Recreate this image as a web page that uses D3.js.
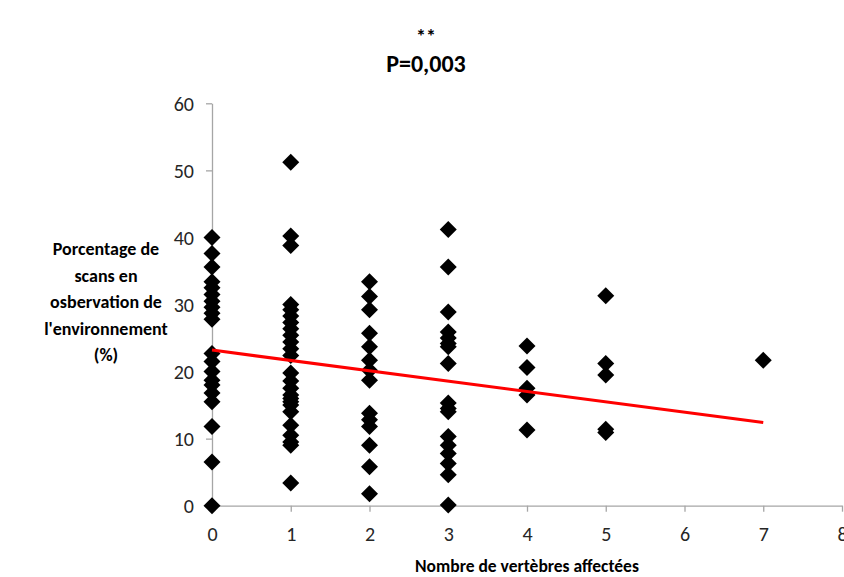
<!DOCTYPE html>
<html><head><meta charset="utf-8">
<script src="https://cdn.jsdelivr.net/npm/d3@7"></script>
<style>body{margin:0;background:#fff;} svg{display:block;}</style>
</head><body>
<svg id="c" width="844" height="577"></svg>
<script>
const vertebrae = [0, 1, 2, 3, 4, 5, 7];
const scanPct = [
  [40.0, 37.6, 35.6, 33.4, 32.5, 31.5, 30.5, 29.6, 28.7, 27.8, 22.7, 21.5, 20.0, 18.7, 18.0, 16.8, 15.5, 11.8, 6.5, 0],
  [51.2, 40.2, 38.8, 30.0, 29.2, 28.3, 27.3, 26.4, 25.4, 24.4, 23.4, 22.4, 19.8, 18.6, 17.5, 16.5, 16.0, 15.5, 15.0, 14.0, 12.0, 10.5, 9.5, 9.0, 3.4],
  [33.4, 31.2, 29.2, 25.7, 23.7, 21.7, 20.2, 18.7, 13.8, 12.8, 11.8, 9.0, 5.8, 1.8],
  [41.2, 35.6, 28.9, 25.9, 25.0, 24.2, 23.7, 21.2, 15.3, 14.5, 14.0, 10.3, 9.0, 7.8, 6.3, 4.6, 0.1],
  [23.8, 20.6, 17.5, 16.5, 11.3],
  [31.3, 21.2, 19.5, 11.4, 10.9],
  [21.7]
];
const trendX = [0, 7];
const trendIntercept = 23.2;
const trendSlope = -1.54;
const xTicks = [0, 1, 2, 3, 4, 5, 6, 7, 8];
const yTicks = [0, 10, 20, 30, 40, 50, 60];
const yTitleLines = ["Porcentage de", "scans en", "osbervation de", "l'environnement", "(%)"];
const xTitle = "Nombre de vertèbres affectées";
const stars = "**";
const pText = "P=0,003";

const font = "Carlito, Lato, 'Liberation Sans', sans-serif";
const svg = d3.select("#c");
const x = d3.scaleLinear().domain([0, 8]).range([212, 842]);
const y = d3.scaleLinear().domain([0, 60]).range([505.7, 103.3]);

const grey = "#a6a6a6";
const xa = svg.append("g").attr("transform", `translate(0,${y(0)})`)
  .call(d3.axisBottom(x).tickValues(xTicks).tickSize(6).tickSizeOuter(0).tickPadding(12));
const ya = svg.append("g").attr("transform", `translate(${x(0)},0)`)
  .call(d3.axisLeft(y).tickValues(yTicks).tickSize(6).tickSizeOuter(0).tickPadding(12));
[xa, ya].forEach(a => {
  a.select(".domain").attr("stroke", grey).attr("stroke-width", 1.3);
  a.selectAll(".tick line").attr("stroke", grey).attr("stroke-width", 1.3);
  a.selectAll(".tick text").attr("fill", "#262626").style("font-family", font).style("font-size", "20px");
});
xa.selectAll(".tick text").attr("dy", "0.85em");
ya.selectAll(".tick text").attr("dy", "0.35em");

const pts = [];
vertebrae.forEach((v, i) => scanPct[i].forEach(p => pts.push([v, p])));
const h = 8.5;
svg.append("g").selectAll("path").data(pts).join("path")
  .attr("d", d => {
    const cx = x(d[0]), cy = y(d[1]);
    const p = d3.path();
    p.moveTo(cx, cy - h); p.lineTo(cx + h, cy); p.lineTo(cx, cy + h); p.lineTo(cx - h, cy); p.closePath();
    return p.toString();
  })
  .attr("fill", "#000");

svg.append("path")
  .datum(trendX.map(v => [v, trendIntercept + trendSlope * v]))
  .attr("d", d3.line().x(d => x(d[0])).y(d => y(d[1])))
  .attr("stroke", "#ff0000").attr("stroke-width", 3).attr("fill", "none");

svg.append("text").attr("x", 426).attr("y", 43).attr("text-anchor", "middle")
  .style("font-family", font).style("font-size", "20px").style("font-weight", "bold").attr("fill", "#000").text(stars);
svg.append("text").attr("x", 426).attr("y", 72).attr("text-anchor", "middle")
  .style("font-family", font).style("font-size", "24px").style("font-weight", "bold").attr("fill", "#000").text(pText);

svg.append("text").attr("x", 527).attr("y", 572).attr("text-anchor", "middle")
  .style("font-family", font).style("font-size", "17.5px").style("font-weight", "bold").attr("fill", "#000").text(xTitle);

const yt = svg.append("text").attr("text-anchor", "middle")
  .style("font-family", font).style("font-size", "18px").style("font-weight", "bold").attr("fill", "#000");
yTitleLines.forEach((l, i) => yt.append("tspan").attr("x", 106).attr("y", 255 + i * 26.5).text(l));
</script>
</body></html>
